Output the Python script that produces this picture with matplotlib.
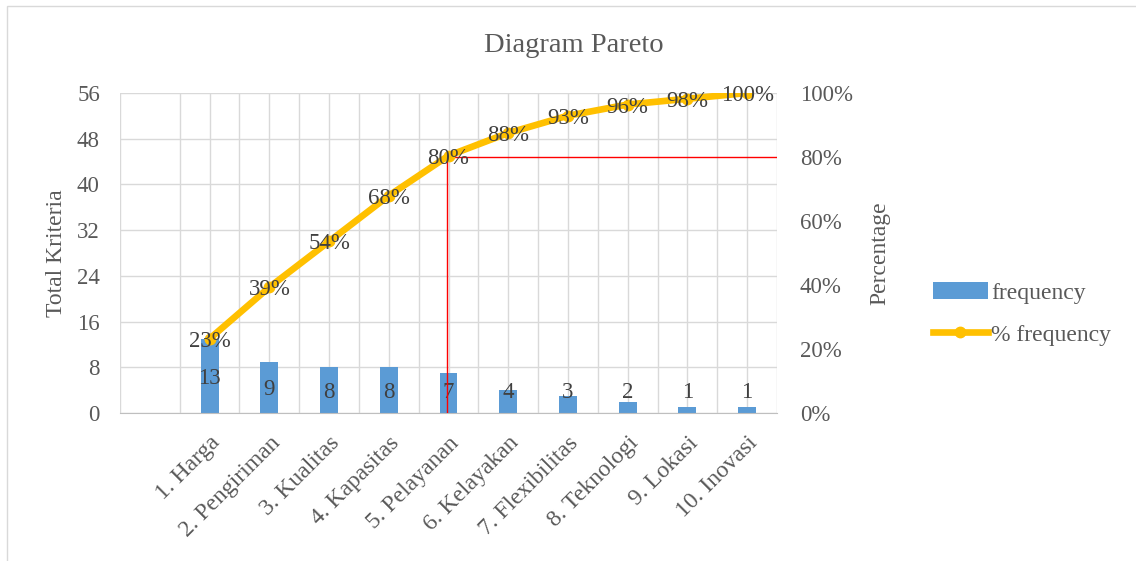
import numpy as np
import matplotlib.pyplot as plt
from matplotlib.patches import Rectangle

plt.rcParams['font.family'] = ['Liberation Serif', 'DejaVu Serif']

# data
categories = ['1. Harga', '2. Pengiriman', '3. Kualitas', '4. Kapasitas', '5. Pelayanan',
              '6. Kelayakan', '7. Flexibilitas', '8. Teknologi', '9. Lokasi', '10. Inovasi']
frequency = [13, 9, 8, 8, 7, 4, 3, 2, 1, 1]
pct_frequency = [23.2, 39.3, 53.6, 67.9, 80.4, 87.5, 92.9, 96.4, 98.2, 100.0]
pct_labels = ['23%', '39%', '54%', '68%', '80%', '88%', '93%', '96%', '98%', '100%']
cutoff_idx = 4
cutoff_pct = 80

txt = '#595959'
grid_c = '#D9D9D9'

fig = plt.figure(figsize=(11.36, 5.61), dpi=100)
ax = fig.add_axes([120/1136, 1 - 413/561, (777-120)/1136, (413-93)/561])
x = np.arange(len(categories))

bars = ax.bar(x, frequency, width=0.3, color='#5B9BD5', label='frequency', zorder=2)
for xi, v in zip(x, frequency):
    ax.text(xi, max(v / 2, 4.0), str(v), ha='center', va='center_baseline', fontsize=16.5,
            color='#404040', zorder=3)

ax.set_xlim(-1.5, 9.5)
ax.set_ylim(0, 56)
ax.set_yticks(range(0, 57, 8))
ax.set_xticks(x)
ax.set_xticklabels(categories, rotation=45, ha='right', rotation_mode='anchor', fontsize=17, color=txt)
ax.set_xticks(np.arange(-1.5, 10, 1), minor=True)
ax.tick_params(axis='x', which='both', length=0, pad=14)
ax.tick_params(axis='y', length=0, pad=14.5, labelsize=16.5, labelcolor=txt)
ax.grid(True, which='both', color=grid_c, lw=1, zorder=0)
ax.set_axisbelow(True)
for s in ['top', 'left', 'right']:
    ax.spines[s].set_visible(False)
ax.spines['bottom'].set_color('#BFBFBF')
ax.set_ylabel('Total Kriteria', fontsize=17, color=txt)
ax.yaxis.set_label_coords((67 - 120) / 657, 0.5)

ax2 = ax.twinx()
ax2.set_ylim(0, 100)
ax2.set_yticks(range(0, 101, 20))
ax2.set_yticklabels([f'{t}%' for t in range(0, 101, 20)])
ax2.tick_params(axis='y', length=0, pad=16.5, labelsize=16.5, labelcolor=txt)
for s in ax2.spines.values():
    s.set_visible(False)
ax2.set_ylabel('Percentage', fontsize=17, color=txt)
ax2.yaxis.set_label_coords((869 - 120) / 657, 0.5)

ax2.plot([cutoff_idx - 0.03, cutoff_idx - 0.03], [0, cutoff_pct], color='red', lw=1, zorder=3)
ax2.plot([cutoff_idx - 0.03, 9.5], [cutoff_pct, cutoff_pct], color='red', lw=1, zorder=3)
line, = ax2.plot(x, pct_frequency, color='#FFC000', lw=4.8, marker='o', markersize=7.5,
                 label='% frequency', zorder=4)
for xi, v, lab in zip(x, pct_frequency, pct_labels):
    ax2.text(xi, v, lab, ha='center', va='center_baseline', fontsize=16.5, color='#404040', zorder=5)

fig.text(0.505, 1 - 45/561, 'Diagram Pareto', ha='center', va='center', fontsize=20.5, color=txt)

fig.legend([bars, line], ['frequency', '% frequency'], loc='center left',
           bbox_to_anchor=(912/1136, 1 - 314/561), frameon=False, fontsize=17,
           handlelength=2.3, handletextpad=0.15, labelspacing=0.85, labelcolor=txt)

fig.patches.append(Rectangle((7/1136, -0.1), 1.2, 1.1 - 6/561, transform=fig.transFigure,
                             fill=False, edgecolor='#D9D9D9', lw=1))

fig.savefig('out.png', dpi=100)
